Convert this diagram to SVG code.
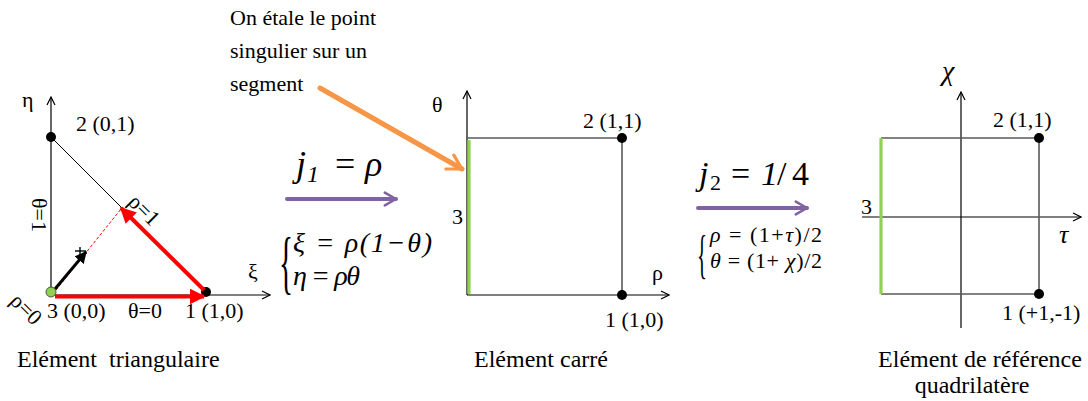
<svg xmlns="http://www.w3.org/2000/svg" width="1088" height="401" viewBox="0 0 1088 401">
<style>
text{font-family:"Liberation Serif","DejaVu Serif","Times New Roman",serif;fill:#000}
.lbl{font-size:22px}
.ttl{font-size:24px}
.it{font-style:italic}
.ax{stroke:#000;stroke-width:1.2;fill:none}
.edge{stroke:#595959;stroke-width:1.6;fill:none}
.green{stroke:#92D050;stroke-width:3.2;fill:none}
.node{fill:#000}
</style>
<defs>
<marker id="openV" viewBox="0 0 10 10" refX="9" refY="5" markerWidth="10" markerHeight="10" markerUnits="userSpaceOnUse" orient="auto">
<path d="M1,1 L9,5 L1,9" fill="none" stroke="#000" stroke-width="1.2"/>
</marker>
<marker id="redHead" viewBox="0 0 10 10" refX="9" refY="5" markerWidth="4" markerHeight="4" orient="auto">
<path d="M0,0 L10,5 L0,10 Z" fill="#FF0000"/>
</marker>
<marker id="blkHead" viewBox="0 0 10 10" refX="9" refY="5" markerWidth="4" markerHeight="4" orient="auto">
<path d="M0,0 L10,5 L0,10 Z" fill="#000"/>
</marker>
<marker id="orHead" viewBox="0 0 10 10" refX="8" refY="5" markerWidth="4" markerHeight="4" orient="auto">
<path d="M1,1 L8,5 L1,9" fill="none" stroke="#F79646" stroke-width="1.6" stroke-linecap="round" stroke-linejoin="round"/>
</marker>
<marker id="puHead" viewBox="0 0 10 10" refX="8" refY="5" markerWidth="4" markerHeight="4" orient="auto">
<path d="M1,1 L8,5 L1,9" fill="none" stroke="#8064A2" stroke-width="1.6" stroke-linecap="round" stroke-linejoin="round"/>
</marker>
</defs>
<rect width="1088" height="401" fill="#fff"/>

<!-- Triangle element -->
<g id="triangle">
<line class="ax" x1="51" y1="292" x2="51" y2="97" marker-end="url(#openV)" stroke="#404040" stroke-width="1.6"/>
<line class="ax" x1="51" y1="295" x2="270" y2="295" marker-end="url(#openV)"/>
<line x1="51" y1="137" x2="206" y2="292" stroke="#000" stroke-width="1"/>
<circle class="node" cx="51" cy="137" r="5"/>
<circle class="node" cx="206" cy="292" r="5"/>
<text class="lbl" x="22" y="107">η</text>
<text class="lbl" x="76" y="131">2 (0,1)</text>
<text class="lbl" x="248" y="279">ξ</text>
<text class="lbl" x="32" y="198" transform="rotate(90 32 198)">θ=1</text>
<text class="lbl" x="127" y="203" transform="rotate(45 127 203)">ρ=1</text>
<text class="lbl" x="9" y="302" transform="rotate(45 9 302)">ρ=0</text>
<text class="lbl" x="47" y="318">3 (0,0)</text>
<text class="lbl" x="128" y="318">θ=0</text>
<text class="lbl" x="185" y="318">1 (1,0)</text>
<text class="ttl" x="17" y="367" style="white-space:pre">Elément  triangulaire</text>
</g>

<!-- Square element -->
<g id="square">
<line class="ax" x1="467" y1="295" x2="467" y2="91" marker-end="url(#openV)"/>
<line class="ax" x1="467" y1="295" x2="669" y2="295" marker-end="url(#openV)"/>
<polyline class="edge" points="467,138 622,138 622,295"/>
<line class="green" x1="469" y1="140" x2="469" y2="294"/>
<circle class="node" cx="622" cy="138" r="5"/>
<circle class="node" cx="622" cy="295" r="5"/>
<text class="lbl" x="432" y="112">θ</text>
<text class="lbl" x="583" y="128">2 (1,1)</text>
<text class="lbl" x="452" y="224">3</text>
<text class="lbl" x="652" y="280">ρ</text>
<text class="lbl" x="605" y="327">1 (1,0)</text>
<text class="ttl" x="541" y="367" text-anchor="middle">Elément carré</text>
</g>

<!-- Reference quadrilateral -->
<g id="reference">
<line class="ax" x1="961" y1="328" x2="961" y2="92" marker-end="url(#openV)"/>
<line class="ax" x1="862" y1="217" x2="1081" y2="217" marker-end="url(#openV)"/>
<polyline class="edge" points="881,138 1039,138 1039,294 881,294"/>
<line class="green" x1="881" y1="138" x2="881" y2="294"/>
<circle class="node" cx="1039" cy="138" r="5"/>
<circle class="node" cx="1039" cy="294" r="5"/>
<text class="lbl it" x="942" y="80" style="font-size:28px">χ</text>
<text class="lbl" x="993" y="127">2 (1,1)</text>
<text class="lbl" x="861" y="214">3</text>
<text class="lbl it" x="1059" y="243" style="font-size:26px">τ</text>
<text class="lbl" x="1002" y="320">1 (+1,-1)</text>
<text class="ttl" x="980" y="367" text-anchor="middle">Elément de référence</text>
<text class="ttl" x="972" y="393" text-anchor="middle">quadrilatère</text>
</g>

<!-- Annotation -->
<g id="annotation">
<text style="font-size:22px" x="230" y="25">On étale le point</text>
<text style="font-size:22px" x="230" y="58">singulier sur un</text>
<text style="font-size:22px" x="230" y="91">segment</text>
</g>

<!-- Mapping j1 -->
<g id="map1">
<text style="font-size:36px" y="176"><tspan class="it" x="296">j</tspan><tspan class="it" x="307" dy="6" style="font-size:24px">1</tspan><tspan x="335" dy="-6">=</tspan><tspan class="it" x="365">ρ</tspan></text>
<text transform="translate(279,286) scale(0.42,1)" style="font-size:70px">{</text>
<text class="it" style="font-size:28px" x="293" y="252" textLength="139" lengthAdjust="spacing">ξ = ρ(1−θ)</text>
<text class="it" style="font-size:28px" x="293" y="285" textLength="67" lengthAdjust="spacing">η = ρθ</text>
</g>

<!-- Mapping j2 -->
<g id="map2">
<text style="font-size:34px" y="185"><tspan class="it" x="699">j</tspan><tspan x="710" dy="5" style="font-size:22px">2</tspan><tspan x="731" dy="-5">=</tspan><tspan class="it" x="761">1</tspan><tspan x="777">/</tspan><tspan x="792">4</tspan></text>
<text transform="translate(697,272) scale(0.4,1)" style="font-size:52px">{</text>
<text style="font-size:22px" x="710" y="242" textLength="112" lengthAdjust="spacing"><tspan class="it">ρ</tspan> = (1+<tspan class="it">τ</tspan>)/2</text>
<text style="font-size:22px" x="710" y="268" textLength="112" lengthAdjust="spacing"><tspan class="it">θ</tspan> = (1+ <tspan class="it">χ</tspan>)/2</text>
</g>

<!-- Connectors -->
<g id="connectors">
<line x1="55" y1="296.5" x2="204" y2="296.5" stroke="#FF0000" stroke-width="4" marker-end="url(#redHead)"/>
<line x1="204" y1="290" x2="121" y2="208" stroke="#FF0000" stroke-width="4" marker-end="url(#redHead)"/>
<line x1="56" y1="290" x2="121" y2="209" stroke="#FF0000" stroke-width="1" stroke-dasharray="3,2"/>
<line x1="55" y1="289" x2="86" y2="252" stroke="#000" stroke-width="3" marker-end="url(#blkHead)"/>
<g stroke="#000" stroke-width="1.4"><line x1="80" y1="247" x2="80" y2="257"/><line x1="75" y1="251" x2="86" y2="251"/></g>
<circle cx="51" cy="292" r="5" fill="#92D050" stroke="#333" stroke-width="0.8"/>
<line x1="320" y1="88" x2="462" y2="169" stroke="#F79646" stroke-width="5" stroke-linecap="round" marker-end="url(#orHead)"/>
<line x1="287" y1="199" x2="396" y2="199" stroke="#8064A2" stroke-width="4" stroke-linecap="round" marker-end="url(#puHead)"/>
<line x1="698" y1="208" x2="807" y2="208" stroke="#8064A2" stroke-width="4" stroke-linecap="round" marker-end="url(#puHead)"/>
</g>
</svg>
